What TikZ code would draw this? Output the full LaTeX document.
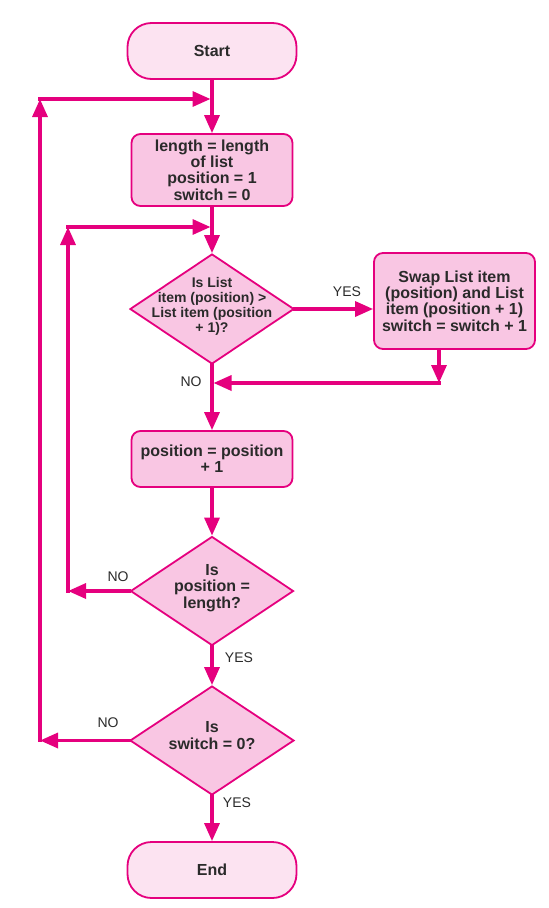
\documentclass[tikz,border=0pt]{standalone}
\usepackage{fontspec}
\setmainfont{Liberation Sans}
\usepackage{xcolor}
\usetikzlibrary{shapes.geometric,arrows.meta}

\definecolor{flowpink}{HTML}{E5007E}
\definecolor{boxpink}{HTML}{F9C6E3}
\definecolor{termpink}{HTML}{FCE3F1}
\definecolor{inkgray}{HTML}{2A2A2A}

\newcommand{\boxfont}{\fontsize{16}{16.3}\selectfont\bfseries}
\newcommand{\smallboxfont}{\fontsize{14}{15}\selectfont\bfseries}
% text inside a diamond, kept from growing the shape
\newcommand{\dtext}[1]{\raisebox{-3.5pt}{\makebox[0pt]{\smash{\begin{tabular}{@{}c@{}}#1\end{tabular}}}}}

\begin{document}
\begin{tikzpicture}[x=1pt,y=-1pt,
  flowline/.style={line width=3.3pt, draw=flowpink, line cap=rect},
  tip/.style={-{Triangle[length=18pt,width=15pt]}},
  procbox/.style={draw=flowpink, line width=1.8pt, fill=boxpink, rounded corners=9pt,
    align=center, font=\boxfont, text=inkgray, inner sep=0pt},
  termbox/.style={procbox, fill=termpink, rounded corners=24pt},
  decision/.style={diamond, draw=flowpink, line width=1.8pt, fill=boxpink,
    inner sep=0pt, font=\boxfont, text=inkgray},
  answer/.style={font=\fontsize{14}{16}\selectfont, text=inkgray}]
\useasboundingbox (0,0) rectangle (549,908);
%% boxes
\node[termbox, minimum width=169pt, minimum height=56pt] (start) at (212,51) {Start};
\node[procbox, minimum width=161pt, minimum height=72pt] (init) at (212,170)
  {length = length\\of list\\position = 1\\switch = 0};
\node[decision, minimum width=164pt, minimum height=110pt, font=\smallboxfont] (compare) at (212,309)
  {\dtext{Is List\\item (position) >\\List item (position\\+ 1)?}};
\node[procbox, minimum width=161pt, minimum height=96pt] (swap) at (454.5,301)
  {Swap List item\\(position) and List\\item (position + 1)\\switch = switch + 1};
\node[procbox, minimum width=161pt, minimum height=56pt] (update) at (212,459)
  {position = position\\+ 1};
\node[decision, minimum width=163pt, minimum height=109pt] (check) at (212,591)
  {\dtext{Is\\position =\\length?}};
\node[decision, minimum width=164pt, minimum height=109pt] (done) at (212,740.5)
  {\dtext{Is\\switch = 0?}};
\node[termbox, minimum width=169pt, minimum height=56pt] (end) at (212,870) {End};
%% corners of the loops
\coordinate (outertop) at (40,99);
\coordinate (innertop) at (68,227);
\coordinate (swapturn) at (439,383);
%% main line
\draw[flowline,tip] (start) -- (init);
\draw[flowline,tip] (init) -- (compare);
\draw[flowline,tip] (compare) -- (update);
\draw[flowline,tip] (update) -- (check);
\draw[flowline,tip] (check) -- (done);
\draw[flowline,tip] (done) -- (end);
%% swap branch
\draw[flowline,tip] (compare.east) -- (compare.east -| swap.west);
\draw[flowline,tip] (swap.south -| swapturn) -- (swapturn);
\draw[flowline,tip,shorten >=1.5pt] (swapturn) -- (compare.south |- swapturn);
%% inner loop
\draw[flowline,tip] (check) -- (check.west -| innertop);
\draw[flowline,tip] (check.west -| innertop) -- (innertop);
\draw[flowline,tip,shorten >=1.5pt] (innertop) -- (init.south |- innertop);
%% outer loop
\draw[flowline,tip] (done) -- (done.west -| outertop);
\draw[flowline,tip] (done.west -| outertop) -- (outertop);
\draw[flowline,tip,shorten >=1.5pt] (outertop) -- (start.south |- outertop);
%% answers
\node[answer] (yesswap) at (347,292) {YES};
\node[answer] (noswap) at (191,382) {NO};
\node[answer] (nocheck) at (118,577) {NO};
\node[answer] (yescheck) at (239,658) {YES};
\node[answer] (nodone) at (108,723) {NO};
\node[answer] (yesdone) at (237,803) {YES};
\end{tikzpicture}
\end{document}
